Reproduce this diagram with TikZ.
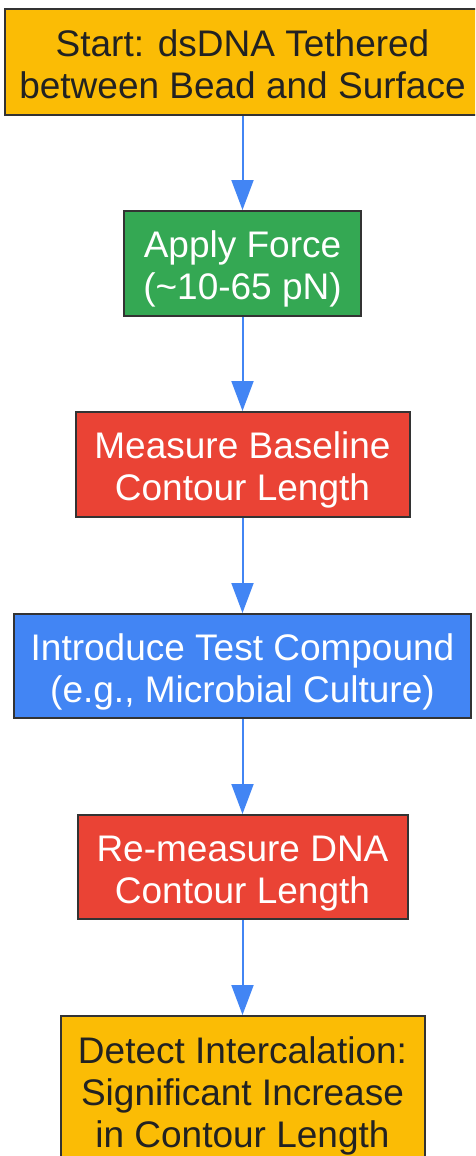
\documentclass[tikz,border=0pt]{standalone}
\usepackage{fontspec}
\setmainfont{Liberation Sans}
\usetikzlibrary{arrows.meta}
\definecolor{gyellow}{HTML}{FBBC05}
\definecolor{ggreen}{HTML}{34A853}
\definecolor{gred}{HTML}{EA4335}
\definecolor{gblue}{HTML}{4285F4}
\definecolor{bordergray}{HTML}{333333}
\definecolor{darktext}{HTML}{222222}
\newcommand\boxtext[1]{\raisebox{-7pt}[\height][\depth]{\begin{tabular}{@{}c@{}}#1\end{tabular}}}
\tikzset{
  box/.style={draw=bordergray, line width=2pt, inner sep=0pt, align=center,
    font=\fontsize{37}{42}\selectfont},
  yellowbox/.style={box, fill=gyellow, text=darktext},
  greenbox/.style={box, fill=ggreen, text=white},
  redbox/.style={box, fill=gred, text=white},
  bluebox/.style={box, fill=gblue, text=white},
  flow/.style={draw=gblue, line width=2pt, -{Triangle[length=30pt,width=22pt]}}
}
\begin{document}
\begin{tikzpicture}[x=1pt,y=-1pt]
\useasboundingbox (0,0) rectangle (475,1156);
\begin{scope}
\clip (0,0) rectangle (475,1156);
\node[yellowbox, minimum width=476pt, minimum height=106pt] (b1) at (242.5,62) {\boxtext{Start: dsDNA Tethered\\between Bead and Surface}};
\node[greenbox, minimum width=237pt, minimum height=105pt] (b2) at (242.5,263.5) {\boxtext{Apply Force\\(\textasciitilde10-65 pN)}};
\node[redbox, minimum width=334pt, minimum height=105pt] (b3) at (242.5,464.5) {\boxtext{Measure Baseline\\Contour Length}};
\node[bluebox, minimum width=457pt, minimum height=104pt] (b4) at (242.5,666) {\boxtext{Introduce Test Compound\\(e.g., Microbial Culture)}};
\node[redbox, minimum width=330pt, minimum height=104pt] (b5) at (242.5,867) {\boxtext{Re-measure DNA\\Contour Length}};
\node[yellowbox, minimum width=364pt, minimum height=148pt] (b6) at (242.5,1090) {\boxtext{Detect Intercalation:\\Significant Increase\\in Contour Length}};
\draw[flow] (b1.south) -- (b2.north);
\draw[flow] (b2.south) -- (b3.north);
\draw[flow] (b3.south) -- (b4.north);
\draw[flow] (b4.south) -- (b5.north);
\draw[flow] (b5.south) -- (b6.north);
\end{scope}
\end{tikzpicture}
\end{document}
